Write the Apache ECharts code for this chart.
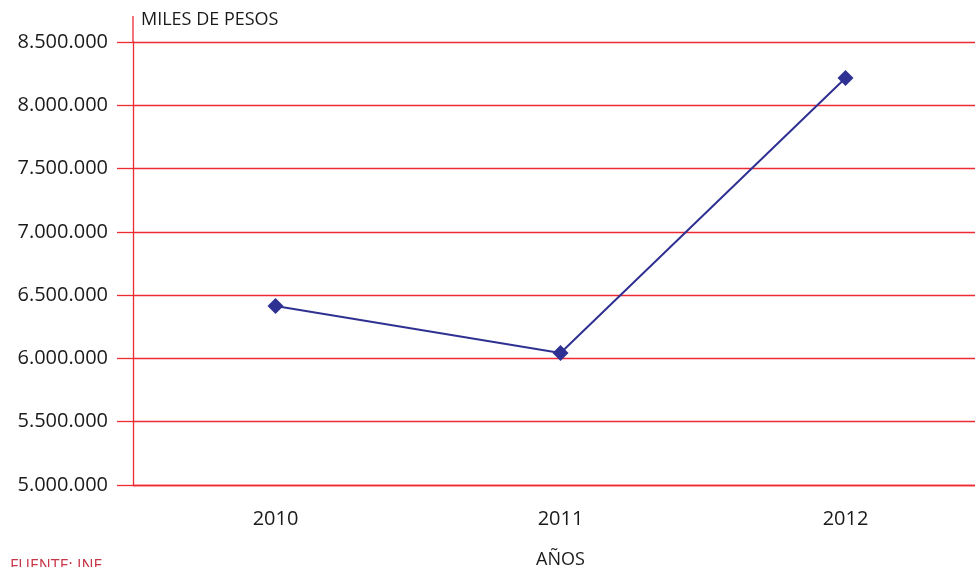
<!DOCTYPE html>
<html>
<head>
<meta charset="utf-8">
<script src="https://cdn.jsdelivr.net/npm/echarts@6/dist/echarts.min.js"></script>
<style>
  html, body { margin: 0; padding: 0; background: #fff; }
  #chart { width: 975px; height: 567px; }
</style>
</head>
<body>
<div id="chart"></div>
<script>
// datos del grafico
var years = ["2010", "2011", "2012"];
var valores = [6414000, 6043000, 8215000];
var yMin = 5000000, yMax = 8500000, yStep = 500000;

var rojo = "#ee2a33";
var azul = "#2e3192";
var fuente = "'Open Sans', 'DejaVu Sans', sans-serif";

// formato con punto de miles
function miles(v) {
    return String(v).replace(/\B(?=(\d{3})+(?!\d))/g, ".");
}

var myChart = echarts.init(document.getElementById('chart'));
var option = {
    animation: false,
    grid: { left: 133, top: 42, width: 855, height: 443, outerBoundsMode: 'none', containLabel: false },
    xAxis: {
        type: 'category',
        data: years,
        boundaryGap: true,
        axisLine: { show: true, lineStyle: { color: rojo, width: 1.3 } },
        axisTick: { show: false },
        axisLabel: { color: '#1a1a1a', fontSize: 20, fontFamily: fuente, margin: 24 },
        name: 'AÑOS',
        nameLocation: 'middle',
        nameGap: 66,
        nameTextStyle: { color: '#1a1a1a', fontSize: 18, fontFamily: fuente }
    },
    yAxis: {
        type: 'value',
        min: yMin,
        max: yMax,
        interval: yStep,
        axisLine: { show: true, lineStyle: { color: rojo, width: 1.3 } },
        axisTick: { show: true, length: 16, lineStyle: { color: rojo, width: 1.3 } },
        axisLabel: { color: '#1a1a1a', fontSize: 20, fontFamily: fuente, margin: 25, formatter: miles },
        splitLine: { show: true, lineStyle: { color: rojo, width: 1.3 } }
    },
    graphic: [
        // prolongacion del eje vertical sobre la ultima linea
        { type: 'line', shape: { x1: 133, y1: 16, x2: 133, y2: 42 }, style: { stroke: rojo, lineWidth: 1.3 } },
        { type: 'text', left: 141, top: 11, style: { text: 'MILES DE PESOS', fill: '#1a1a1a', fontSize: 18, fontFamily: fuente } },
        { type: 'text', left: 10, top: 558, style: { text: 'FUENTE: INE', fill: '#c8364a', fontSize: 16, fontFamily: fuente } }
    ],
    series: [{
        type: 'line',
        data: valores,
        symbol: 'diamond',
        symbolSize: 16,
        lineStyle: { color: azul, width: 2 },
        itemStyle: { color: azul }
    }]
};
myChart.setOption(option);
</script>
</body>
</html>
